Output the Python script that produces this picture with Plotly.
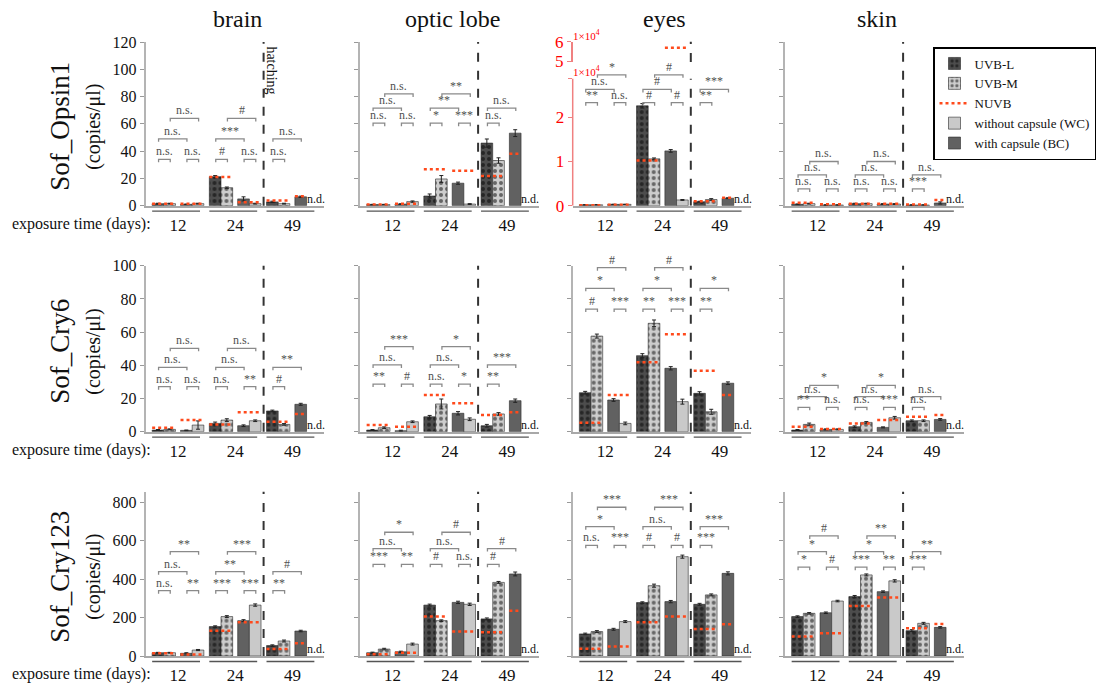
import plotly.graph_objects as go

W, H = 1098, 686
FONT = "Liberation Serif"

TISSUES = ["brain", "optic lobe", "eyes", "skin"]
GENES = ["Sof_Opsin1", "Sof_Cry6", "Sof_Cry123"]
DAYS = ["12", "24", "49"]

# ---- data: [tissue][day] ; None = n.d.  (Opsin1 eyes in units of 1x10^4 copies/µl)
OPSIN1_UVBL = [[1.5, 21.3, 2.8], [0.8, 7.1, 45.9], [0.02, 2.26, 0.09], [1.0, 1.5, 0.5]]
OPSIN1_UVBM = [[1.5, 13.2, 1.5], [0.8, 19.6, 33.1], [0.02, 1.06, 0.14], [1.5, 1.5, 0.5]]
OPSIN1_BC = [[1.0, 5.0, 6.5], [1.2, 16.5, 53.2], [0.03, 1.24, 0.17], [0.5, 1.2, 2.0]]
OPSIN1_WC = [[1.5, 1.5, None], [3.0, 1.2, None], [0.03, 0.13, None], [0.5, 1.2, None]]
OPSIN1_NUVB_UV = [[1.5, 21.0, 3.8], [0.8, 26.8, 21.8], [0.01, 1.02, 0.10], [2.2, 1.5, 0.8]]
OPSIN1_NUVB_CAP = [[1.5, 2.5, 7.0], [1.5, 25.7, 38.0], [0.02, 5.69, 0.18], [1.0, 1.5, 4.2]]
OPSIN1_ERR_UVBL = [[0.3, 0.8, 0.5], [0.2, 1.5, 3.0], [0.003, 0.05, 0.01], [0.3, 0.3, 0.2]]
OPSIN1_ERR_UVBM = [[0.3, 0.5, 0.3], [0.2, 2.5, 2.0], [0.003, 0.02, 0.02], [0.3, 0.3, 0.2]]
OPSIN1_ERR_BC = [[0.2, 1.5, 0.5], [0.2, 0.8, 2.5], [0.003, 0.03, 0.01], [0.2, 0.3, 0.8]]
OPSIN1_ERR_WC = [[0.3, 0.3, None], [0.5, 0.3, None], [0.003, 0.01, None], [0.2, 0.3, None]]

CRY6_UVBL = [[1.0, 5.0, 12.5], [1.0, 9.0, 3.6], [23.5, 45.8, 23.1], [1.0, 3.0, 6.6]]
CRY6_UVBM = [[1.4, 7.0, 4.4], [2.4, 16.7, 10.7], [57.6, 65.3, 12.0], [4.4, 5.6, 6.6]]
CRY6_BC = [[0.8, 3.6, 16.5], [0.6, 11.1, 18.7], [19.1, 38.2, 29.2], [1.4, 2.6, 7.4]]
CRY6_WC = [[4.0, 6.6, None], [6.0, 7.5, None], [5.0, 18.1, None], [1.4, 8.4, None]]
CRY6_NUVB_UV = [[2.4, 4.4, 6.0], [4.0, 22.1, 10.1], [5.4, 41.8, 36.7], [3.0, 5.0, 9.0]]
CRY6_NUVB_CAP = [[7.0, 11.7, 10.6], [3.0, 17.1, 11.7], [22.1, 58.7, 22.1], [1.6, 7.0, 10.1]]
CRY6_ERR_UVBL = [[0.3, 0.8, 0.5], [0.3, 0.8, 0.8], [0.8, 1.2, 1.0], [0.3, 0.5, 0.5]]
CRY6_ERR_UVBM = [[0.3, 0.8, 0.5], [0.5, 3.0, 0.8], [1.2, 2.0, 1.5], [0.8, 0.5, 0.5]]
CRY6_ERR_BC = [[0.2, 0.5, 0.6], [0.3, 1.0, 1.0], [0.8, 1.0, 0.8], [0.3, 0.3, 0.5]]
CRY6_ERR_WC = [[2.5, 0.5, None], [0.5, 0.8, None], [0.8, 1.5, None], [0.3, 0.8, None]]

CRY123_UVBL = [[17, 153, 54], [17, 265, 193], [115, 278, 269], [205, 309, 132]]
CRY123_UVBM = [[17, 205, 78], [36, 184, 383], [127, 366, 318], [222, 422, 170]]
CRY123_BC = [[14, 184, 130], [22, 279, 427], [139, 283, 430], [225, 335, 149]]
CRY123_WC = [[31, 265, None], [62, 269, None], [179, 517, None], [286, 391, None]]
CRY123_NUVB_UV = [[14, 132, 36], [9, 205, 123], [38, 175, 141], [101, 260, 144]]
CRY123_NUVB_CAP = [[8, 175, 66], [17, 127, 236], [49, 205, 165], [118, 305, 166]]
CRY123_ERR_UVBL = [[2, 4, 4], [3, 5, 5], [4, 4, 5], [4, 6, 5]]
CRY123_ERR_UVBM = [[2, 5, 5], [4, 4, 5], [5, 8, 5], [4, 5, 5]]
CRY123_ERR_BC = [[3, 5, 4], [3, 6, 10], [5, 6, 8], [4, 4, 4]]
CRY123_ERR_WC = [[3, 6, None], [5, 6, None], [5, 8, None], [4, 6, None]]

# significance labels per tissue/day: [UVB-L vs UVB-M, BC vs WC, UVB-L vs BC, UVB-M vs WC]
OPSIN1_SIG = [
    [["n.s.", "n.s.", "n.s.", "n.s."], ["#", "n.s.", "***", "#"], ["n.s.", None, "n.s.", None]],
    [["n.s.", "n.s.", "n.s.", "n.s."], ["*", "***", "**", "**"], ["n.s.", None, "n.s.", None]],
    [["**", "n.s.", "n.s.", "*"], ["#", "#", "#", "#"], ["**", None, "***", None]],
    [["n.s.", "n.s.", "n.s.", "n.s."], ["n.s.", "n.s.", "n.s.", "n.s."], ["***", None, "n.s.", None]],
]
CRY6_SIG = [
    [["n.s.", "n.s.", "n.s.", "n.s."], ["n.s.", "**", "n.s.", "n.s."], ["#", None, "**", None]],
    [["**", "#", "n.s.", "***"], ["n.s.", "*", "n.s.", "*"], ["**", None, "***", None]],
    [["#", "***", "*", "#"], ["**", "***", "*", "#"], ["**", None, "*", None]],
    [["**", "n.s.", "n.s.", "*"], ["n.s.", "***", "n.s.", "*"], ["n.s.", None, "n.s.", None]],
]
CRY123_SIG = [
    [["n.s.", "**", "n.s.", "**"], ["***", "***", "**", "***"], ["**", None, "#", None]],
    [["***", "**", "n.s.", "*"], ["#", "n.s.", "n.s.", "#"], ["#", None, "#", None]],
    [["n.s.", "***", "*", "***"], ["#", "#", "n.s.", "***"], ["***", None, "***", None]],
    [["*", "#", "*", "#"], ["***", "**", "*", "**"], ["***", None, "**", None]],
]

# ---- layout / style constants
SIG_LEVELS = [  # bracket heights (layout positions) per gene, per tissue: [pair, L-BC, M-WC]
    [[34, 49, 64], [60.5, 71.6, 81.9], [2.33, 2.63, 2.96], [12.3, 22.6, 32.4]],
    [[27.1, 38.8, 50.2], [28.7, 40.2, 51.2], [73.9, 86.4, 98.8], [14.7, 21.1, 27.9]],
    [[340, 439, 543], [477, 559, 644], [576, 673, 774], [462, 543, 625]],
]
ROWS = [
    dict(uvbl=OPSIN1_UVBL, uvbm=OPSIN1_UVBM, bc=OPSIN1_BC, wc=OPSIN1_WC, nuv=OPSIN1_NUVB_UV,
         ncap=OPSIN1_NUVB_CAP, e=[OPSIN1_ERR_UVBL, OPSIN1_ERR_UVBM, OPSIN1_ERR_BC, OPSIN1_ERR_WC],
         sig=OPSIN1_SIG),
    dict(uvbl=CRY6_UVBL, uvbm=CRY6_UVBM, bc=CRY6_BC, wc=CRY6_WC, nuv=CRY6_NUVB_UV,
         ncap=CRY6_NUVB_CAP, e=[CRY6_ERR_UVBL, CRY6_ERR_UVBM, CRY6_ERR_BC, CRY6_ERR_WC],
         sig=CRY6_SIG),
    dict(uvbl=CRY123_UVBL, uvbm=CRY123_UVBM, bc=CRY123_BC, wc=CRY123_WC, nuv=CRY123_NUVB_UV,
         ncap=CRY123_NUVB_CAP, e=[CRY123_ERR_UVBL, CRY123_ERR_UVBM, CRY123_ERR_BC, CRY123_ERR_WC],
         sig=CRY123_SIG),
]
# y: (range max, bottom px, top px, dtick)
ROW_Y = [(120, 205.7, 42.0, 20), (100, 431.7, 265.7, 20), (855, 656.0, 491.7, 200)]
EYE_LOW = (3.0, 205.7, 73.1)
EYE_BREAK = 2.87
EYE_UP = (4.95, 6.0, 62.0, 41.7)
X_LEFT = [145.5, 360.0, 572.7, 785.0]
X_UNIT = 11.67
X_MAX = 15.3
BASE = [1.07, 5.97, 10.87]
OFFS = [0.0, 1.0, 2.43, 3.43]
HATCH_X = 10.12
RED = "#ff4a1c"
AXIS_GRAY = "#b4b4b4"
SIG_GRAY = "#8a8a8a"

STYLES = [
    dict(name="UVB-L", bg="#4d4d4d", pat=True, rank=1),
    dict(name="UVB-M", bg="#cdcdcd", pat=True, rank=2),
    dict(name="with capsule (BC)", bg="#616161", pat=False, rank=5),
    dict(name="without capsule (WC)", bg="#c9c9c9", pat=False, rank=4),
]


def fx(px):
    return px / W


def fy(py):
    return 1 - py / H


def note(x, y, text, size, color="#111111", **kw):
    d = dict(x=fx(x), y=fy(y), xref="paper", yref="paper", text=text, showarrow=False,
             xanchor="center", yanchor="middle", font=dict(family=FONT, size=size, color=color))
    d.update(kw)
    return d


fig = go.Figure()
layout = dict(
    width=W, height=H, margin=dict(l=0, r=0, t=0, b=0, pad=0, autoexpand=False),
    paper_bgcolor="white", plot_bgcolor="white", barmode="overlay",
    font=dict(family=FONT, color="#111111"),
    legend=dict(x=fx(933), y=fy(47), xanchor="left", yanchor="top",
                bordercolor="#000000", borderwidth=1.5, bgcolor="white",
                font=dict(family=FONT, size=13, color="#111111"),
                tracegroupgap=0, itemwidth=30),
)
annotations = []
shapes = []

for r, row in enumerate(ROWS):
    ymax, ybot, ytop, dtick = ROW_Y[r]
    for c in range(4):
        k = r * 4 + c + 1
        xa = "x" if k == 1 else f"x{k}"
        ya = "y" if k == 1 else f"y{k}"
        xkey = "xaxis" if k == 1 else f"xaxis{k}"
        ykey = "yaxis" if k == 1 else f"yaxis{k}"
        eyes_top = (r == 0 and c == 2)
        if eyes_top:
            rmax, b_px, t_px = EYE_LOW
        else:
            rmax, b_px, t_px = ymax, ybot, ytop
        ppu = (b_px - t_px) / rmax
        x0px = X_LEFT[c]
        layout[xkey] = dict(
            domain=[fx(x0px), fx(x0px + X_MAX * X_UNIT)], range=[0, X_MAX], anchor=ya,
            showgrid=False, zeroline=False, showline=True, linecolor="#a8a8a8", linewidth=2,
            ticks="", tickvals=[b + 1.72 for b in BASE], ticktext=DAYS,
            tickfont=dict(family=FONT, size=17, color="#111111"), ticklabelstandoff=3,
            fixedrange=True,
        )
        yax = dict(
            domain=[fy(b_px), fy(t_px)], range=[0, rmax], anchor=xa,
            showgrid=False, zeroline=False, showline=True, linecolor=AXIS_GRAY, linewidth=1.5,
            ticks="outside", ticklen=4, tickcolor="#999999", tickwidth=1,
            tickmode="linear", tick0=0, dtick=dtick,
            showticklabels=(c == 0),
            tickfont=dict(family=FONT, size=16, color="#111111"),
            fixedrange=True,
        )
        if eyes_top:
            yax.update(showline=False, tickmode="array", tickvals=[0, 1, 2, EYE_BREAK],
                       ticktext=["0", "1", "2", ""], showticklabels=True, tickcolor="#f08080",
                       tickfont=dict(family=FONT, size=17, color="#ff0000"))
        layout[ykey] = yax

        # bars
        vals = [row["uvbl"][c], row["uvbm"][c], row["bc"][c], row["wc"][c]]
        for s, st in enumerate(STYLES):
            marker = dict(color=st["bg"], line=dict(color="#2a2a2a", width=0.6))
            if st["pat"]:
                marker["pattern"] = dict(shape=".", fgcolor="#000000", bgcolor=st["bg"],
                                         size=6, solidity=0.35, fillmode="overlay")
            fig.add_trace(go.Bar(
                x=[BASE[g] + OFFS[s] for g in range(3)], y=vals[s], width=1.0,
                error_y=dict(type="data", array=row["e"][s][c], color="#222222",
                             thickness=1, width=2),
                marker=marker, name=st["name"], legendrank=st["rank"],
                showlegend=(k == 1), xaxis=xa, yaxis=ya, hoverinfo="skip"))

        # NUVB dotted lines
        nx, ny, ux, uy = [], [], [], []
        for g in range(3):
            segs = [(BASE[g] - 0.5, BASE[g] + 1.5, row["nuv"][c][g])]
            right = BASE[g] + (OFFS[3] if row["wc"][c][g] is not None else OFFS[2]) + 0.5
            segs.append((BASE[g] + OFFS[2] - 0.5, right, row["ncap"][c][g]))
            for a, b, v in segs:
                if eyes_top and v > rmax:
                    ux += [a, b, None]; uy += [v, v, None]
                else:
                    nx += [a, b, None]; ny += [v, v, None]
        fig.add_trace(go.Scatter(
            x=nx, y=ny, mode="lines", line=dict(color=RED, width=2.5, dash="dot"),
            name="NUVB", legendrank=3, showlegend=(k == 1), xaxis=xa, yaxis=ya,
            hoverinfo="skip"))
        if ux:
            fig.add_trace(go.Scatter(
                x=ux, y=uy, mode="lines", line=dict(color=RED, width=2.5, dash="dot"),
                showlegend=False, xaxis=xa, yaxis="y13", hoverinfo="skip"))

        # significance brackets
        lv = SIG_LEVELS[r][c]
        tick = 3.0 / ppu
        bx, by = [], []
        pairs = [(0, 1, lv[0]), (2, 3, lv[0]), (0, 2, lv[1]), (1, 3, lv[2])]
        for g in range(3):
            for j, (s1, s2, yl) in enumerate(pairs):
                lab = row["sig"][c][g][j]
                if lab is None:
                    continue
                xa1, xa2 = BASE[g] + OFFS[s1] + 0.05, BASE[g] + OFFS[s2] + 0.05
                bx += [xa1, xa1, xa2, xa2, None]
                by += [yl - tick, yl, yl, yl - tick, None]
                annotations.append(dict(
                    x=(xa1 + xa2) / 2, y=yl, xref=xa, yref=ya, text=lab, showarrow=False,
                    yanchor="bottom", xanchor="center", yshift=-1,
                    font=dict(family=FONT, size=12, color="#505050")))
        fig.add_trace(go.Scatter(
            x=bx, y=by, mode="lines", line=dict(color=SIG_GRAY, width=1.3),
            showlegend=False, xaxis=xa, yaxis=ya, hoverinfo="skip"))

        # n.d. markers
        for g in range(3):
            if row["wc"][c][g] is None:
                annotations.append(dict(
                    x=BASE[g] + OFFS[3] + 0.3, y=0, xref=xa, yref=ya, text="n.d.",
                    showarrow=False, yanchor="bottom", xanchor="center", yshift=-2,
                    font=dict(family=FONT, size=12, color="#111111")))

        # group underlines
        for g in range(3):
            shapes.append(dict(type="line", xref=xa, yref=f"{ya} domain",
                               x0=BASE[g] - 0.5, x1=BASE[g] + 3.6,
                               y0=-5.5 / (b_px - t_px), y1=-5.5 / (b_px - t_px),
                               line=dict(color="#555555", width=1.3)))

        # hatching line
        if eyes_top:
            shapes.append(dict(type="line", xref=xa, yref=ya, x0=HATCH_X, x1=HATCH_X,
                               y0=0, y1=EYE_BREAK, line=dict(color="#333333", width=2, dash="dash")))
            shapes.append(dict(type="line", xref=xa, yref="y13 domain", x0=HATCH_X, x1=HATCH_X,
                               y0=0, y1=1, line=dict(color="#333333", width=2, dash="dash")))
            shapes.append(dict(type="line", xref=f"{xa} domain", yref=ya, x0=0, x1=0,
                               y0=0, y1=EYE_BREAK, line=dict(color="#f08080", width=1.5)))
        else:
            shapes.append(dict(type="line", xref=xa, yref=f"{ya} domain", x0=HATCH_X, x1=HATCH_X,
                               y0=0, y1=1, line=dict(color="#333333", width=2, dash="dash")))

    # row labels
    mid = (ybot + ytop) / 2 + 3
    annotations.append(note(60, mid, GENES[r], 27, textangle=-90))
    annotations.append(note(94, mid, "(copies/\u03bcl)", 20, textangle=-90))
    annotations.append(note(153, ybot + 18, "exposure time (days):", 16, xanchor="right"))

# eyes upper (broken) axis
layout["yaxis13"] = dict(
    domain=[fy(EYE_UP[2]), fy(EYE_UP[3])], range=[EYE_UP[0], EYE_UP[1]], anchor="x3",
    showgrid=False, zeroline=False, showline=True, linecolor="#f08080", linewidth=1.5,
    ticks="outside", ticklen=4, tickcolor="#f08080", tickvals=[5, 6], ticktext=["5", "6"],
    tickfont=dict(family=FONT, size=17, color="#ff0000"), fixedrange=True)
annotations.append(note(571, 35, "1\u00d710<sup>4</sup>", 11, "#ff0000", xanchor="left"))
annotations.append(note(571, 71, "1\u00d710<sup>4</sup>", 11, "#ff0000", xanchor="left"))

# column titles
for c, t in enumerate(TISSUES):
    annotations.append(note(X_LEFT[c] + 92, 19, t, 24))

# hatching label
annotations.append(dict(x=HATCH_X, xref="x", y=fy(70), yref="paper", xshift=8, text="hatching",
                        textangle=90, showarrow=False, xanchor="center", yanchor="middle",
                        font=dict(family=FONT, size=14, color="#111111")))

layout["annotations"] = annotations
layout["shapes"] = shapes
fig.update_layout(**layout)
fig.write_html("out.html", config={"displayModeBar": False},
               post_script="document.body.style.margin='0';document.body.style.overflow='hidden';")
